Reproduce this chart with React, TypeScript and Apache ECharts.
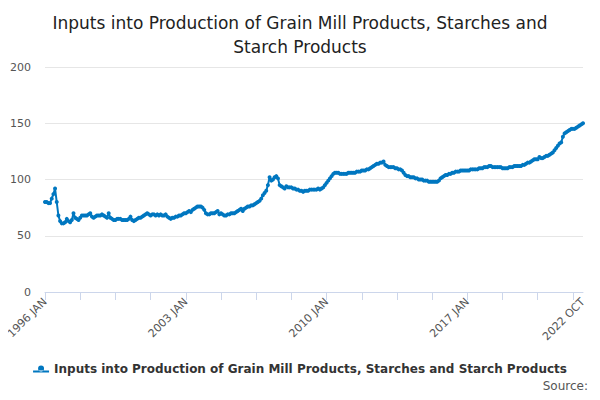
import React, { useEffect, useRef } from "react";
import * as echarts from "echarts";

const title = "Inputs into Production of Grain Mill Products, Starches and\nStarch Products";
const seriesName = "Inputs into Production of Grain Mill Products, Starches and Starch Products";
const months = ["JAN","FEB","MAR","APR","MAY","JUN","JUL","AUG","SEP","OCT","NOV","DEC"];
const yearly: number[][] = [
  [80,80,79,79,83,87,92,80,68,63,61,61],
  [62,65,63,62,64,70,66,65,64,66,68,68],
  [68,68,69,70,67,66,67,68,68,68,69,68],
  [67,66,70,66,65,64,64,65,65,65,64,64],
  [64,64,65,67,64,63,64,65,66,66,67,68],
  [69,70,69,68,69,69,68,69,68,69,68,68],
  [69,67,66,65,66,66,67,67,68,68,69,70],
  [70,71,72,71,73,74,75,76,76,76,75,73],
  [70,69,69,70,70,70,71,72,69,70,69,68],
  [68,69,69,70,70,70,71,72,73,74,72,74],
  [75,76,76,77,77,78,79,80,81,83,86,88],
  [90,95,102,99,100,102,103,101,95,94,93,92],
  [94,93,93,93,92,92,91,91,90,90,89,90],
  [90,90,91,91,91,91,91,92,91,92,93,95],
  [97,99,101,103,105,106,106,106,105,105,105,105],
  [105,106,106,106,106,106,107,107,107,108,108,108],
  [109,109,110,111,112,113,114,114,115,115,116,113],
  [112,111,111,111,111,110,110,109,109,108,106,104],
  [103,103,102,102,102,101,101,100,100,100,99,99],
  [99,98,98,98,98,98,98,99,101,102,103,104],
  [104,105,105,106,106,107,107,107,108,108,108,108],
  [108,108,109,109,109,109,109,110,110,110,111,111],
  [111,112,112,111,111,111,111,111,111,110,110,110],
  [110,111,111,111,112,112,112,112,112,113,113,114],
  [115,115,116,117,118,118,118,120,119,119,120,121],
  [121,122,123,124,126,128,130,132,133,138,141,142],
  [143,144,145,145,145,146,147,148,149,150],
];
const categories: string[] = [];
const values: number[] = [];
yearly.forEach((arr, i) => arr.forEach((v, m) => { categories.push(`${1996 + i} ${months[m]}`); values.push(v); }));
const labelShown = new Set(["1996 JAN", "2003 JAN", "2010 JAN", "2017 JAN", "2022 OCT"]);

export default function App() {
  const ref = useRef<HTMLDivElement>(null);
  useEffect(() => {
    const chart = echarts.init(ref.current!, null, { renderer: "svg" });
    chart.setOption({
      animation: false,
      textStyle: { fontFamily: "DejaVu Sans" },
      title: { text: title, left: "center", top: 6, textStyle: { fontSize: 17, fontWeight: "normal", color: "#222", lineHeight: 24 } },
      grid: { left: 45, right: 17, top: 67, bottom: 108 },
      xAxis: {
        type: "category", data: categories, boundaryGap: false,
        axisLine: { lineStyle: { color: "#ccd6eb" } },
        axisTick: { interval: (i: number) => i % 21 === 0, lineStyle: { color: "#ccd6eb" }, length: 8 },
        axisLabel: { interval: (i: number, v: string) => labelShown.has(v), rotate: 45, color: "#555", fontSize: 11, margin: 8 },
      },
      yAxis: {
        type: "value", min: 0, max: 200, interval: 50,
        axisLabel: { color: "#555", fontSize: 11, margin: 14 },
        splitLine: { lineStyle: { color: "#e6e6e6" } },
      },
      legend: { bottom: 20, left: "center", itemWidth: 16, textStyle: { fontSize: 12, fontWeight: "bold", color: "#333" }, icon: "path://M0,4h16v2H0z M5,2a3,3 0 1,0 6,0a3,3 0 1,0 -6,0" },
      graphic: [{ type: "text", right: 12, bottom: 8, style: { text: "Source:", fontSize: 12, fill: "#555", fontFamily: "DejaVu Sans" } }],
      series: [{
        name: seriesName, type: "line", data: values, color: "#0077c0",
        symbol: "circle", symbolSize: 4, showSymbol: true, showAllSymbol: true, lineStyle: { width: 2 },
      }],
    });
    return () => chart.dispose();
  }, []);
  return <div ref={ref} style={{ width: 600, height: 400, margin: -8 }} />;
}
